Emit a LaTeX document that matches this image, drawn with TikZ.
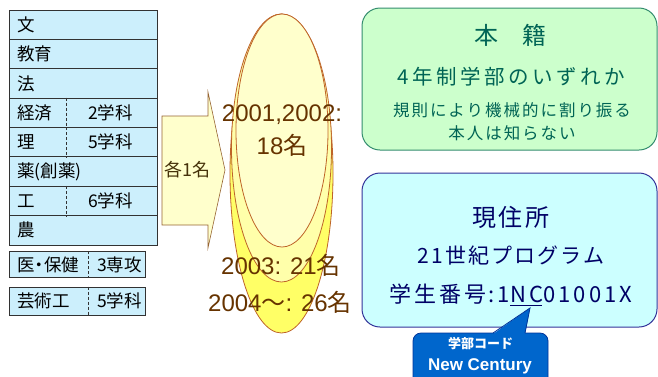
\documentclass[tikz,border=0pt]{standalone}
\usepackage{fontspec}
\setmainfont{Liberation Sans}
\newfontfamily\jp{Noto Sans CJK JP}
\usetikzlibrary{calc,positioning}
\colorlet{tableFill}{cyan!20!white}
\definecolor{tableLine}{RGB}{50,50,50}
\definecolor{arrowFill}{RGB}{255,255,204}
\definecolor{arrowLine}{RGB}{150,100,50}
\definecolor{arrowText}{RGB}{70,50,10}
\definecolor{ellLine}{RGB}{190,100,40}
\definecolor{ellOuterFill}{RGB}{255,255,102}
\definecolor{ellMidFill}{RGB}{255,255,170}
\definecolor{ellInnerFill}{RGB}{255,255,204}
\definecolor{ellText}{RGB}{102,51,0}
\definecolor{honFill}{RGB}{204,255,204}
\definecolor{honLine}{RGB}{51,140,110}
\definecolor{honText}{RGB}{0,100,85}
\definecolor{genFill}{RGB}{204,255,255}
\definecolor{genLine}{RGB}{51,51,153}
\definecolor{genText}{RGB}{0,0,102}
\definecolor{calloutBlue}{RGB}{0,102,204}
\definecolor{calloutLine}{RGB}{0,51,153}
\tikzset{
  deptRow/.style={draw=tableLine,line width=0.8pt,fill=tableFill,anchor=west,inner sep=0pt,
      minimum width=148pt,minimum height=29.375pt},
  extraRow/.style={deptRow,minimum width=136pt,minimum height=#1},
  deptText/.style={anchor=west,inner sep=0pt,font=\jp\fontsize{17.5}{17.5}\selectfont},
  deptDivider/.style={draw=tableLine,dashed,dash pattern=on 3pt off 2pt,line width=0.7pt},
  quotaArrow/.style={draw=arrowLine,fill=arrowFill,line width=0.6pt},
  ellipseRing/.style={draw=ellLine,line width=0.8pt,fill=#1},
  ellText/.style={inner sep=0pt,text=ellText,font=\fontsize{24}{24}\selectfont},
  infoBox/.style={rounded corners=18pt,line width=1pt,inner sep=0pt,
      minimum width=295pt,minimum height=#1},
  honText/.style={inner sep=0pt,text=honText},
  genText/.style={inner sep=0pt,text=genText},
  idText/.style={genText,font=\jp\fontsize{22}{22}\selectfont\addfontfeature{LetterSpace=13}},
  calloutBox/.style={draw=calloutLine,fill=calloutBlue,line width=0.8pt,rounded corners=8pt,
      minimum width=135pt,minimum height=54pt,inner sep=0pt},
  calloutText/.style={inner sep=0pt,text=white},
}

\begin{document}
\begin{tikzpicture}[x=1pt,y=-1pt]
  \clip (0,0) rectangle (658,376);

  % faculty table
  \foreach \i/\dept in {0/文,1/教育,2/法,3/経済,4/理,5/薬(創薬),6/工,7/農} {
    \node[deptRow] (row\i) at (9,24.7+29.375*\i) {};
    \node[deptText,right=8pt of row\i.west] (dept\i) {\dept};
  }
  \foreach \i/\sub in {3/2学科,4/5学科,6/6学科} {
    \draw[deptDivider] ($(row\i.north west)+(57,0)$) -- ($(row\i.south west)+(57,0)$);
    \node[deptText,right=79pt of row\i.west] (sub\i) {\sub};
  }
  \node[extraRow=26pt] (med) at (9,264.5) {};
  \node[deptText,right=8pt of med.west] (medName) {医\kern-4pt・\kern-4pt保健};
  \node[deptText,right=88pt of med.west] (medSub) {3専攻};
  \draw[deptDivider] ($(med.north west)+(79,0)$) -- ($(med.south west)+(79,0)$);
  \node[extraRow=28pt] (art) at (9,301) {};
  \node[deptText,right=8pt of art.west] (artName) {芸術工};
  \node[deptText,right=88pt of art.west] (artSub) {5学科};
  \draw[deptDivider] ($(art.north west)+(79,0)$) -- ($(art.south west)+(79,0)$);

  % one from each faculty
  \draw[quotaArrow] (162,116) -- (208,116) -- (208,92) -- (225,170) -- (208,248) -- (208,225) -- (162,225) -- cycle;
  \node[inner sep=0pt,text=arrowText,font=\jp\fontsize{18}{18}\selectfont] (each) at (187.5,170) {各1名};

  % quota ellipses
  \draw[ellipseRing=ellOuterFill] (281.5,173.5) ellipse [x radius=51.5,y radius=159.5];
  \draw[ellipseRing=ellMidFill] (281.5,148) ellipse [x radius=50,y radius=134];
  \draw[ellipseRing=ellInnerFill] (282,130.5) ellipse [x radius=46,y radius=116.5];
  \node[ellText] (q2001) at (282,115) {2001,2002:};
  \node[ellText] (q2001n) at (282,145) {18{\jp 名}};
  \node[ellText] (q2003) at (281,265) {2003: 21{\jp 名}};
  \node[ellText] (q2004) at (280,302) {2004{\jp ～}: 26{\jp 名}};

  % registered faculty
  \node[infoBox=142pt,draw=honLine,fill=honFill] (honseki) at (509.5,79) {};
  \node[honText,font=\jp\fontsize{24}{24}\selectfont] (honTitle) at (510,35) {本　籍};
  \node[honText,font=\jp\fontsize{20.5}{20.5}\selectfont\addfontfeature{LetterSpace=17}] (honLine1) at (511,77) {4年制学部のいずれか};
  \node[honText,font=\jp\fontsize{16.5}{16.5}\selectfont\addfontfeature{LetterSpace=12}] (honLine2) at (512,110) {規則により機械的に割り振る};
  \node[honText,font=\jp\fontsize{16.5}{16.5}\selectfont\addfontfeature{LetterSpace=12}] (honLine3) at (512,133) {本人は知らない};

  % actual affiliation
  \node[infoBox=154pt,draw=genLine,fill=genFill] (genju) at (509.5,250) {};
  \node[genText,font=\jp\fontsize{24}{24}\selectfont\addfontfeature{LetterSpace=12}] (genTitle) at (511,217) {現住所};
  \node[genText,font=\jp\fontsize{21}{21}\selectfont\addfontfeature{LetterSpace=10}] (genLine1) at (511,256) {21世紀プログラム};
  \node[idText,anchor=base] (ncCode) at (527,302) {NC};
  \node[idText,anchor=base east] (idHead) at (ncCode.base west) {学生番号:1};
  \node[idText,anchor=base west] (idTail) at (ncCode.base east) {01001X};
  \draw[draw=genText,line width=1.5pt] ($(ncCode.base west)+(0,3.5)$) -- ($(ncCode.base east)+(-2,3.5)$);

  % faculty code callout
  \coordinate (calloutTip) at (530,308);
  \node[calloutBox] (callout) at (480.5,360) {};
  \fill[calloutBlue] (493,334) -- (calloutTip) -- (525,334) -- cycle;
  \draw[calloutLine,line width=0.8pt] (493,333) -- (calloutTip) -- (525,333);
  \node[calloutText,font=\jp\bfseries\fontsize{13}{13}\selectfont] (codeLabel) at (480.5,344) {学部コード};
  \node[calloutText,font=\bfseries\fontsize{17}{17}\selectfont] (codeName) at (480,366) {New Century};
\end{tikzpicture}
\end{document}
